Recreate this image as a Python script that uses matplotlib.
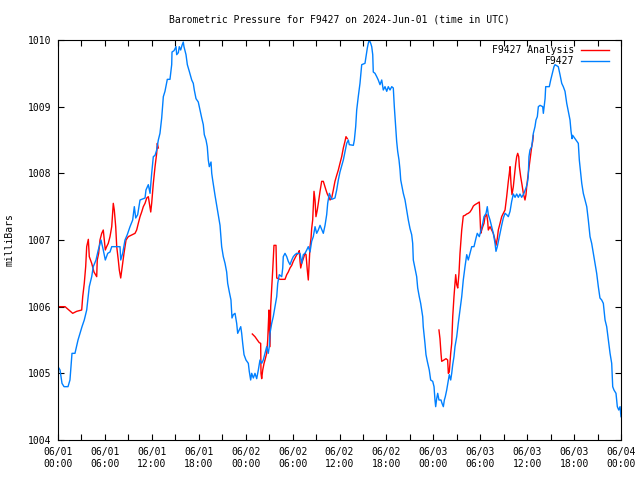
import matplotlib
matplotlib.use("Agg")
import matplotlib.pyplot as plt
import numpy as np

# ---------------- data (hours since 2024-06-01 00:00 UTC, pressure in mbar) ----------------
f9427_t = [0.0, 0.26, 0.51, 0.77, 1.28, 1.53, 1.79, 2.17, 2.56, 2.81, 3.07, 3.36, 3.67, 4.0, 4.31,
           4.51, 4.86, 5.15, 5.5, 5.79, 6.05, 6.36, 6.65, 6.87, 7.93, 8.02, 8.27, 8.57, 8.86, 9.21,
           9.55, 9.76, 9.94, 10.19, 10.49, 11.13, 11.25, 11.55, 11.77, 11.98, 12.19, 12.41, 12.62,
           12.83, 13.04, 13.26, 13.47, 13.68, 13.98, 14.32, 14.54, 14.58, 14.84, 15.09, 15.18, 15.39,
           15.51, 15.69, 15.86, 16.02, 16.11, 16.37, 16.54, 16.79, 17.1, 17.3, 17.43, 17.65, 17.94,
           18.16, 18.38, 18.58, 18.71, 18.93, 19.09, 19.22, 19.35, 19.57, 19.66, 19.78, 20.08, 20.46,
           20.72, 20.93, 21.14, 21.36, 21.57, 21.7, 21.91, 22.12, 22.25, 22.42, 22.64, 22.85, 22.98,
           23.37, 23.49, 23.62, 23.79, 24.04, 24.34, 24.46, 24.64, 24.77, 24.98, 25.19, 25.41, 25.62,
           25.83, 26.05, 26.25, 26.47, 26.69, 26.89, 27.02, 27.11, 27.33, 27.53, 27.75, 27.97, 28.1,
           28.3, 28.61, 28.74, 28.81, 29.03, 29.25, 29.45, 29.67, 29.89, 30.09, 30.31, 30.53, 30.95,
           31.17, 31.37, 31.59, 31.81, 32.01, 32.23, 32.44, 32.65, 32.87, 33.08, 33.29, 33.51, 33.93,
           34.15, 34.36, 34.49, 34.7, 35.0, 35.42, 35.64, 35.85, 36.06, 36.49, 36.7, 36.92, 37.13,
           37.25, 37.77, 37.9, 38.07, 38.2, 38.4, 38.62, 38.84, 39.26, 39.39, 39.56, 39.68, 39.81,
           39.99, 40.12, 40.25, 40.32, 40.54, 40.76, 40.96, 41.18, 41.4, 41.6, 41.82, 42.04, 42.24,
           42.46, 42.68, 42.88, 43.01, 43.19, 43.31, 43.44, 43.61, 43.74, 43.83, 44.16, 44.38, 44.59,
           44.8, 45.02, 45.23, 45.36, 45.44, 45.65, 45.87, 46.0, 46.2, 46.38, 46.51, 46.64, 46.71,
           46.93, 47.06, 47.23, 47.48, 47.66, 47.92, 48.09, 48.21, 48.3, 48.43, 48.56, 48.72, 48.98,
           49.11, 49.28, 49.41, 49.53, 49.71, 49.92, 50.04, 50.22, 50.35, 50.48, 50.64, 50.77, 50.99,
           51.19, 51.41, 51.63, 51.83, 52.05, 52.27, 52.47, 52.69, 52.91, 53.2, 53.46, 53.62, 53.88,
           54.06, 54.32, 54.48, 54.74, 54.9, 55.03, 55.25, 55.46, 55.67, 55.89, 56.01, 56.18, 56.36,
           56.53, 56.74, 56.95, 57.17, 57.38, 57.59, 57.81, 58.02, 58.23, 58.45, 58.66, 58.87, 59.08,
           59.3, 59.59, 59.85, 60.02, 60.14, 60.23, 60.36, 60.58, 60.79, 61.0, 61.13, 61.3, 61.43,
           61.65, 61.99, 62.07, 62.29, 62.37, 62.83, 63.01, 63.22, 63.43, 63.56, 63.98, 64.2, 64.42,
           64.62, 64.84, 65.06, 65.26, 65.48, 65.61, 65.74, 65.82, 66.12, 66.54, 66.67, 66.85, 66.98,
           67.18, 67.4, 67.62, 67.82, 68.04, 68.25, 68.46, 68.68, 68.89, 69.1, 69.31, 69.53, 69.74,
           69.96, 70.17, 70.38, 70.6, 70.81, 70.94, 71.1, 71.36, 71.53, 71.71, 71.88, 72.0]
f9427_p = [1005.1, 1005.05, 1004.85, 1004.8, 1004.8, 1004.9, 1005.3, 1005.3, 1005.5, 1005.6, 1005.7,
           1005.8, 1005.95, 1006.3, 1006.45, 1006.6, 1006.7, 1006.85, 1007.0, 1006.85, 1006.7, 1006.8,
           1006.82, 1006.9, 1006.9, 1006.7, 1006.8, 1007.0, 1007.08, 1007.2, 1007.3, 1007.5, 1007.33,
           1007.38, 1007.6, 1007.63, 1007.75, 1007.83, 1007.7, 1008.0, 1008.25, 1008.27, 1008.35,
           1008.5, 1008.6, 1008.83, 1009.15, 1009.23, 1009.41, 1009.41, 1009.63, 1009.82, 1009.84,
           1009.9, 1009.78, 1009.81, 1009.9, 1009.85, 1009.92, 1009.97, 1009.9, 1009.78, 1009.63,
           1009.53, 1009.4, 1009.35, 1009.25, 1009.12, 1009.07, 1008.95, 1008.83, 1008.73, 1008.58,
           1008.5, 1008.4, 1008.2, 1008.1, 1008.17, 1008.0, 1007.9, 1007.67, 1007.4, 1007.22, 1006.9,
           1006.75, 1006.65, 1006.52, 1006.35, 1006.22, 1006.1, 1005.83, 1005.88, 1005.9, 1005.75,
           1005.6, 1005.7, 1005.6, 1005.45, 1005.28, 1005.2, 1005.15, 1005.03, 1004.9, 1005.0,
           1004.93, 1005.0, 1004.92, 1005.05, 1005.2, 1005.15, 1005.2, 1005.3, 1005.4, 1005.3,
           1005.4, 1005.6, 1005.75, 1005.85, 1006.0, 1006.15, 1006.35, 1006.48, 1006.45, 1006.58,
           1006.75, 1006.8, 1006.75, 1006.68, 1006.63, 1006.7, 1006.75, 1006.78, 1006.8, 1006.8,
           1006.65, 1006.78, 1006.8, 1006.85, 1006.9, 1006.82, 1006.98, 1007.05, 1007.2, 1007.1,
           1007.15, 1007.22, 1007.1, 1007.22, 1007.38, 1007.55, 1007.7, 1007.61, 1007.63, 1007.75,
           1007.9, 1008.02, 1008.2, 1008.32, 1008.45, 1008.5, 1008.43, 1008.42, 1008.5, 1008.7,
           1008.95, 1009.15, 1009.35, 1009.63, 1009.65, 1009.75, 1009.88, 1009.95, 1010.0, 1009.95,
           1009.9, 1009.78, 1009.52, 1009.5, 1009.45, 1009.4, 1009.33, 1009.4, 1009.25, 1009.3,
           1009.23, 1009.3, 1009.25, 1009.3, 1009.28, 1009.0, 1008.7, 1008.48, 1008.33, 1008.2,
           1008.05, 1007.9, 1007.7, 1007.6, 1007.45, 1007.3, 1007.17, 1007.08, 1006.95, 1006.7,
           1006.58, 1006.45, 1006.28, 1006.15, 1006.05, 1005.95, 1005.85, 1005.7, 1005.45, 1005.28,
           1005.18, 1005.05, 1004.9, 1004.88, 1004.8, 1004.6, 1004.5, 1004.62, 1004.7, 1004.6,
           1004.6, 1004.55, 1004.5, 1004.6, 1004.65, 1004.75, 1004.9, 1004.98, 1004.9, 1005.0,
           1005.13, 1005.25, 1005.4, 1005.55, 1005.75, 1005.95, 1006.15, 1006.4, 1006.6, 1006.78,
           1006.7, 1006.8, 1006.9, 1006.9, 1007.03, 1007.1, 1007.05, 1007.13, 1007.25, 1007.35,
           1007.4, 1007.5, 1007.38, 1007.3, 1007.2, 1007.1, 1006.95, 1006.83, 1006.9, 1007.0,
           1007.1, 1007.22, 1007.33, 1007.4, 1007.38, 1007.35, 1007.43, 1007.58, 1007.69, 1007.64,
           1007.69, 1007.64, 1007.69, 1007.64, 1007.7, 1007.78, 1007.85, 1007.95, 1008.25, 1008.35,
           1008.4, 1008.6, 1008.7, 1008.8, 1008.85, 1009.0, 1009.02, 1009.0, 1008.9, 1009.12, 1009.3,
           1009.3, 1009.4, 1009.5, 1009.6, 1009.63, 1009.6, 1009.48, 1009.35, 1009.3, 1009.23,
           1009.05, 1008.93, 1008.8, 1008.63, 1008.52, 1008.57, 1008.52, 1008.45, 1008.2, 1008.0,
           1007.85, 1007.7, 1007.6, 1007.5, 1007.3, 1007.05, 1006.95, 1006.8, 1006.65, 1006.5,
           1006.3, 1006.13, 1006.1, 1006.05, 1005.8, 1005.7, 1005.5, 1005.3, 1005.15, 1004.8,
           1004.75, 1004.7, 1004.5, 1004.45, 1004.5, 1004.35]

# F9427 Analysis, three separate pieces (gaps between them)
analysis_t1 = [0.0, 0.9, 1.88, 2.39, 3.03, 3.16, 3.36, 3.54, 3.67, 3.88, 4.0, 4.31, 4.6, 4.95, 5.02,
               5.2, 5.37, 5.59, 5.79, 6.05, 6.22, 6.43, 6.65, 6.87, 7.07, 7.2, 7.38, 7.51, 7.71, 7.84,
               8.02, 8.27, 8.44, 8.7, 8.99, 9.85, 10.06, 10.27, 10.49, 10.7, 10.91, 11.13, 11.35,
               11.55, 11.86, 11.98, 12.19, 12.41, 12.62, 12.7, 12.83]
analysis_p1 = [1006.0, 1006.0, 1005.9, 1005.93, 1005.95, 1006.15, 1006.35, 1006.6, 1006.9, 1007.01,
               1006.75, 1006.65, 1006.52, 1006.45, 1006.7, 1006.8, 1007.0, 1007.1, 1007.15, 1006.85,
               1006.9, 1006.95, 1007.05, 1007.2, 1007.55, 1007.45, 1007.2, 1006.9, 1006.7, 1006.55,
               1006.43, 1006.65, 1006.8, 1007.0, 1007.05, 1007.1, 1007.15, 1007.25, 1007.35, 1007.42,
               1007.5, 1007.55, 1007.63, 1007.65, 1007.42, 1007.55, 1007.85, 1008.1, 1008.3, 1008.45,
               1008.38]
analysis_t2 = [24.85, 25.19, 25.49, 25.74, 25.92, 25.96, 26.05, 26.18, 26.35, 26.47, 26.69, 26.82,
               26.89, 26.98, 27.11, 27.2, 27.33, 27.46, 27.62, 27.88, 27.97, 28.39, 29.03, 29.25,
               29.45, 29.67, 29.89, 30.09, 30.31, 30.53, 30.73, 30.86, 30.95, 31.04, 31.17, 31.37,
               31.59, 31.72, 31.88, 32.01, 32.14, 32.23, 32.36, 32.44, 32.57, 32.74, 32.87, 32.99,
               33.16, 33.29, 33.51, 33.72, 33.93, 34.06, 34.27, 34.44, 34.66, 34.79, 35.0, 35.21,
               35.42, 35.64, 35.85, 36.06, 36.28, 36.49, 36.7, 36.83, 37.0]
analysis_p2 = [1005.59, 1005.55, 1005.5, 1005.46, 1005.45, 1005.0, 1004.92, 1005.05, 1005.15, 1005.2,
               1005.3, 1005.5, 1005.7, 1005.95, 1005.4, 1006.0, 1006.28, 1006.55, 1006.92, 1006.92,
               1006.43, 1006.41, 1006.41, 1006.48, 1006.52, 1006.58, 1006.62, 1006.68, 1006.73,
               1006.78, 1006.8, 1006.84, 1006.68, 1006.58, 1006.65, 1006.72, 1006.8, 1006.78, 1006.55,
               1006.4, 1006.7, 1006.9, 1007.03, 1007.17, 1007.3, 1007.73, 1007.6, 1007.35, 1007.45,
               1007.55, 1007.73, 1007.88, 1007.88, 1007.83, 1007.75, 1007.69, 1007.64, 1007.6,
               1007.63, 1007.75, 1007.88, 1007.97, 1008.05, 1008.15, 1008.25, 1008.38, 1008.48,
               1008.55, 1008.52]
analysis_t3 = [48.72, 48.85, 48.98, 49.07, 49.36, 49.62, 49.83, 49.92, 50.04, 50.22, 50.35, 50.48,
               50.64, 50.77, 50.86, 50.99, 51.12, 51.28, 51.41, 51.63, 51.83, 52.05, 52.27, 52.47,
               52.69, 52.91, 53.12, 53.33, 53.62, 53.88, 53.97, 54.06, 54.19, 54.32, 54.48, 54.61,
               54.83, 54.95, 55.03, 55.25, 55.46, 55.67, 55.89, 56.01, 56.18, 56.31, 56.53, 56.74,
               56.95, 57.17, 57.38, 57.59, 57.72, 57.81, 57.94, 58.06, 58.23, 58.36, 58.54, 58.66,
               58.79, 58.92, 59.0, 59.17, 59.34, 59.51, 59.72, 59.85, 59.94, 60.14, 60.36, 60.58,
               60.71, 60.79]
analysis_p3 = [1005.65, 1005.52, 1005.3, 1005.18, 1005.2, 1005.22, 1005.2, 1005.0, 1005.02, 1005.3,
               1005.45, 1005.85, 1006.15, 1006.35, 1006.48, 1006.33, 1006.28, 1006.5, 1006.8, 1007.15,
               1007.36, 1007.37, 1007.39, 1007.4, 1007.42, 1007.46, 1007.51, 1007.53, 1007.55,
               1007.57, 1007.35, 1007.1, 1007.15, 1007.2, 1007.25, 1007.35, 1007.38, 1007.28, 1007.15,
               1007.2, 1007.15, 1007.1, 1007.0, 1006.92, 1007.02, 1007.15, 1007.25, 1007.35, 1007.4,
               1007.45, 1007.65, 1007.88, 1008.0, 1008.1, 1007.83, 1007.68, 1007.8, 1007.95, 1008.15,
               1008.25, 1008.3, 1008.25, 1008.1, 1007.95, 1007.83, 1007.7, 1007.6, 1007.68, 1007.8,
               1008.0, 1008.2, 1008.4, 1008.48, 1008.57]

x_ticks = [0, 6, 12, 18, 24, 30, 36, 42, 48, 54, 60, 66, 72]
x_ticklabels = ["06/01\n00:00", "06/01\n06:00", "06/01\n12:00", "06/01\n18:00",
                "06/02\n00:00", "06/02\n06:00", "06/02\n12:00", "06/02\n18:00",
                "06/03\n00:00", "06/03\n06:00", "06/03\n12:00", "06/03\n18:00",
                "06/04\n00:00"]
y_ticks = [1004, 1005, 1006, 1007, 1008, 1009, 1010]

title = "Barometric Pressure for F9427 on 2024-Jun-01 (time in UTC)"
ylabel = "milliBars"

# ---------------- plot ----------------
plt.rcParams['font.family'] = ['DejaVu Sans Mono']
FS = 7

fig = plt.figure(figsize=(6.4, 4.8), dpi=100)
ax = fig.add_axes([58 / 640, 40 / 480, 563 / 640, 400 / 480])

red = '#ff0000'
blue = '#0080ff'
lw = 1.0

ax.plot(analysis_t1, analysis_p1, color=red, lw=lw, label='F9427 Analysis')
ax.plot(analysis_t2, analysis_p2, color=red, lw=lw)
ax.plot(analysis_t3, analysis_p3, color=red, lw=lw)
ax.plot(f9427_t, f9427_p, color=blue, lw=lw, label='F9427')

ax.set_xlim(0, 72)
ax.set_ylim(1004, 1010)
ax.set_xticks(x_ticks)
ax.set_xticklabels(x_ticklabels, fontsize=FS)
ax.set_xticks(np.arange(3, 72, 6), minor=True)
ax.set_yticks(y_ticks)
ax.set_yticklabels([str(v) for v in y_ticks], fontsize=FS)

ax.tick_params(which='both', direction='in', top=True, right=True, width=0.8)
ax.tick_params(which='major', length=4.5, pad=5)
ax.tick_params(which='minor', length=4.5)
for s in ax.spines.values():
    s.set_linewidth(0.8)

fig.text(339 / 640, 1 - 20 / 480, title, ha='center', va='center', fontsize=FS)
fig.text(10 / 640, 0.5, ylabel, rotation=90, ha='center', va='center', fontsize=FS)

leg = ax.legend(loc='upper right', bbox_to_anchor=(551 / 563, 1 - 5 / 400), frameon=False,
                markerfirst=False, fontsize=FS, borderpad=0, borderaxespad=0,
                handlelength=2.9, handletextpad=0.7, labelspacing=0.15)

fig.savefig('out.png', dpi=100)
